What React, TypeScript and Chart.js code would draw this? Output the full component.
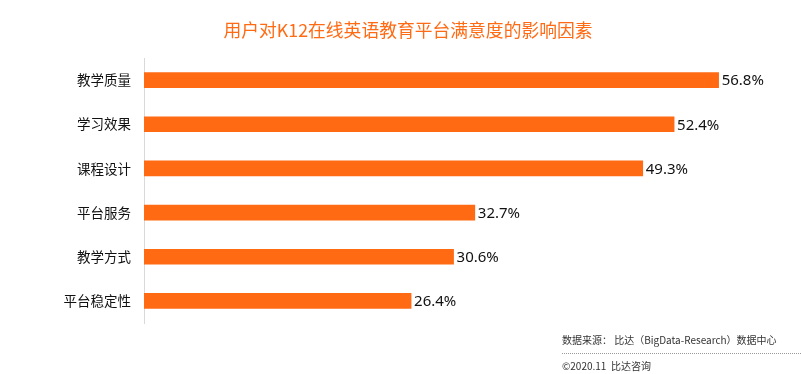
import React, { useEffect, useRef } from "react";
import { Chart, registerables } from "chart.js";

Chart.register(...registerables);

const TITLE = "用户对K12在线英语教育平台满意度的影响因素";
const categories = ["教学质量", "学习效果", "课程设计", "平台服务", "教学方式", "平台稳定性"];
const values = [56.8, 52.4, 49.3, 32.7, 30.6, 26.4];
const SOURCE = "数据来源： 比达（BigData-Research）数据中心";
const COPYRIGHT = "©2020.11  比达咨询";

const ORANGE = "#FF6A13";
const CJK = '"Noto Sans CJK SC", "Noto Sans", sans-serif';

const overlay = {
  id: "overlay",
  afterDatasetsDraw(chart: any) {
    const ctx = chart.ctx;
    const meta = chart.getDatasetMeta(0);
    ctx.save();
    ctx.fillStyle = "#111";
    ctx.font = '15px "Liberation Sans Narrow", "Noto Sans", sans-serif';
    ctx.textAlign = "left";
    ctx.textBaseline = "middle";
    meta.data.forEach((bar: any, i: number) => {
      ctx.fillText(values[i].toFixed(1) + "%", bar.x + 3, bar.y + 1);
    });
    ctx.restore();

    ctx.save();
    ctx.fillStyle = ORANGE;
    ctx.font = `17.8px ${CJK}`;
    ctx.textAlign = "center";
    ctx.textBaseline = "middle";
    ctx.fillText(TITLE, 408, 30);

    ctx.fillStyle = "#333";
    ctx.font = `10px ${CJK}`;
    ctx.textAlign = "left";
    ctx.fillText(SOURCE, 562, 340);
    ctx.fillText(COPYRIGHT, 562, 366);

    ctx.strokeStyle = "#999";
    ctx.lineWidth = 1;
    ctx.setLineDash([1, 1]);
    ctx.beginPath();
    ctx.moveTo(562, 353.5);
    ctx.lineTo(801, 353.5);
    ctx.stroke();
    ctx.restore();
  },
};

export default function App() {
  const ref = useRef<HTMLCanvasElement>(null);
  useEffect(() => {
    const chart = new Chart(ref.current!, {
      type: "bar",
      data: {
        labels: categories,
        datasets: [
          {
            data: values,
            backgroundColor: ORANGE,
            barThickness: 15,
          },
        ],
      },
      options: {
        indexAxis: "y",
        animation: false,
        responsive: false,
        maintainAspectRatio: false,
        layout: { padding: { top: 58, bottom: 51, left: 0, right: 50 } },
        plugins: {
          legend: { display: false },
          title: { display: false },
          tooltip: { enabled: false },
        },
        scales: {
          x: { display: false, min: 0, max: 60 },
          y: {
            afterFit(scale: any) {
              scale.width = 144;
            },
            grid: { display: false, drawTicks: false },
            border: { display: true, color: "#d9d9d9", width: 1 },
            ticks: {
              color: "#111",
              padding: 13,
              font: { size: 13.5, family: CJK },
            },
          },
        },
      },
      plugins: [overlay],
    });
    return () => chart.destroy();
  }, []);
  return (
    <div style={{ position: "fixed", left: 0, top: 0, width: 801, height: 374, background: "#fff" }}>
      <canvas ref={ref} width={801} height={374} style={{ width: 801, height: 374 }} />
    </div>
  );
}
